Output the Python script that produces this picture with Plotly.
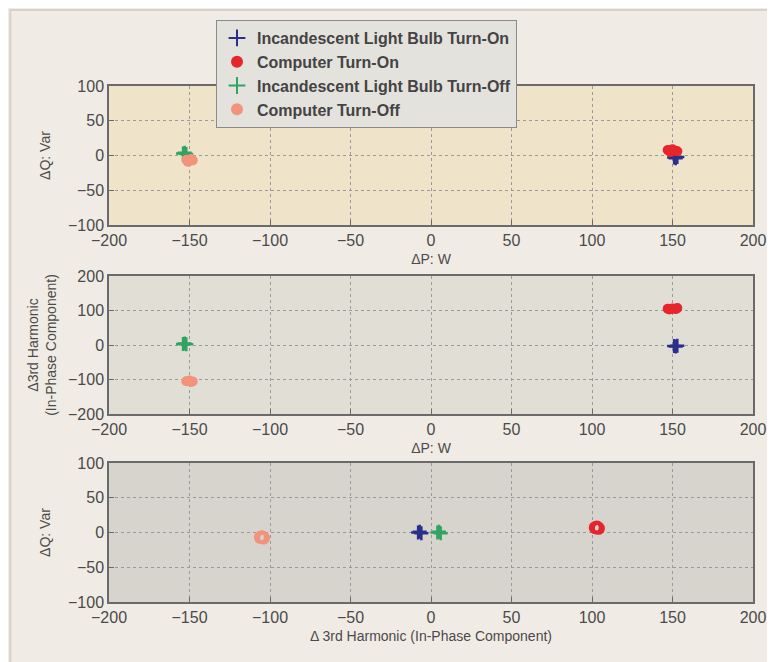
import plotly.graph_objects as go

# values
# panel 1: dP (W) vs dQ (Var)
bulb_on_p = [151, 152, 153]
bulb_on_q = [-3, -4, -2]
comp_on_p = [147, 148, 150, 152, 153, 149]
comp_on_q = [8, 6, 9, 7, 6, 5]
bulb_off_p = [-154, -153, -152]
bulb_off_q = [3, 4, 2]
comp_off_p = [-152, -150, -148, -151, -149]
comp_off_q = [-6, -8, -7, -9, -5]

# panel 2: dP (W) vs d3rd harmonic
bulb_on_h = [-3, -4, -2]
comp_on_h = [105, 103, 106, 104, 107, 104]
bulb_off_h = [3, 4, 2]
comp_off_h = [-105, -103, -106, -104, -107]

# panel 3: d3rd harmonic vs dQ
bulb_on_h3 = [-8, -7, -6]
bulb_on_q3 = [0, 1, -1]
bulb_off_h3 = [4, 5, 6]
bulb_off_q3 = [0, 1, -1]
comp_on_h3 = [102, 103, 104, 103]
comp_on_q3 = [7, 8, 6, 7]
comp_off_h3 = [-106, -105, -104, -105]
comp_off_q3 = [-7, -6, -8, -7]

names = ["Incandescent Light Bulb Turn-On", "Computer Turn-On",
         "Incandescent Light Bulb Turn-Off", "Computer Turn-Off"]
colors = ["#2a2f8c", "#e5262c", "#2fa463", "#f2937c"]
symbols = ["cross-thin", "circle", "cross-thin", "circle"]

W, H = 775, 662
xl, xr = 101 / W, 745 / W
panels = [(78, 217), (268, 406), (455, 594)]

fig = go.Figure()

data = [
    (1, [bulb_on_p, comp_on_p, bulb_off_p, comp_off_p], [bulb_on_q, comp_on_q, bulb_off_q, comp_off_q]),
    (2, [bulb_on_p, comp_on_p, bulb_off_p, comp_off_p], [bulb_on_h, comp_on_h, bulb_off_h, comp_off_h]),
    (3, [bulb_on_h3, comp_on_h3, bulb_off_h3, comp_off_h3], [bulb_on_q3, comp_on_q3, bulb_off_q3, comp_off_q3]),
]

for k, xs, ys in data:
    for i in range(4):
        if symbols[i] == "circle":
            mk = dict(symbol="circle", size=10, color=colors[i], line=dict(width=0))
            if k == 3:
                mk = dict(symbol="circle-open", size=10, color=colors[i], line=dict(width=3, color=colors[i]))
        else:
            mk = dict(symbol="cross-thin", size=10, line=dict(width=2.5, color=colors[i]), color=colors[i])
        fig.add_trace(go.Scatter(
            x=xs[i], y=ys[i], mode="markers", name=names[i], marker=mk,
            showlegend=(k == 1), xaxis="x" if k == 1 else "x%d" % k, yaxis="y" if k == 1 else "y%d" % k,
        ))

bgs = ["#efe4c9", "#e1ded5", "#d7d4cd"]
ylabels = ["ΔQ: Var", "Δ3rd Harmonic<br>(In-Phase Component)", "ΔQ: Var"]
xlabels = ["ΔP: W", "ΔP: W", "Δ 3rd Harmonic (In-Phase Component)"]
yticks = [[-100, -50, 0, 50, 100], [-200, -100, 0, 100, 200], [-100, -50, 0, 50, 100]]
ystand = [14, 8, 14]
font = dict(family="Liberation Sans, Arial", size=14, color="#4a4a4a")
tickfont = dict(family="Liberation Sans, Arial", size=16, color="#4a4a4a")

axis_common = dict(
    showline=True, mirror=True, linecolor="#6a6a6a", linewidth=1.5,
    ticks="inside", ticklen=5, tickcolor="#6a6a6a",
    showgrid=True, gridcolor="#9a9a9a", griddash="dot", gridwidth=1,
    zeroline=False, tickfont=tickfont, automargin=False,
)

for k in range(3):
    top, bot = panels[k]
    sx = "" if k == 0 else str(k + 1)
    fig.update_layout(**{
        "xaxis" + sx: dict(axis_common, domain=[xl, xr], range=[-200, 200], dtick=50,
                           anchor="y" + sx, title=dict(text=xlabels[k], font=font, standoff=6)),
        "yaxis" + sx: dict(axis_common, domain=[1 - bot / H, 1 - top / H],
                           range=[yticks[k][0], yticks[k][-1]], tickvals=yticks[k],
                           anchor="x" + sx, title=dict(text=ylabels[k], font=font, standoff=ystand[k])),
    })
    fig.add_shape(type="rect", xref="x%s domain" % sx if sx else "x domain",
                  yref="y%s domain" % sx if sx else "y domain",
                  x0=0, x1=1, y0=0, y1=1, fillcolor=bgs[k], line_width=0, layer="below")

# faint frame round the whole picture
fig.add_shape(type="rect", xref="paper", yref="paper", x0=0.003, x1=0.997, y0=0.003, y1=0.997,
              line=dict(color="#d6d2ca", width=2), fillcolor="rgba(0,0,0,0)")

fig.update_layout(
    width=W, height=H,
    margin=dict(l=0, r=0, t=0, b=0),
    paper_bgcolor="#f0ece5",
    plot_bgcolor="rgba(0,0,0,0)",
    font=font,
    legend=dict(x=208 / W, y=1 - 12 / H, xanchor="left", yanchor="top",
                bgcolor="#e4e2dc", bordercolor="#8a8a8a", borderwidth=1,
                font=dict(family="Liberation Sans, Arial", size=16, color="#444444", weight="bold"),
                itemsizing="constant", tracegroupgap=0),
)

fig.write_html("out.html")
